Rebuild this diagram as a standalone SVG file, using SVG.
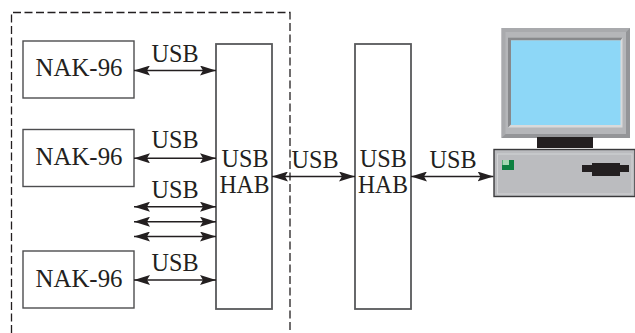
<svg xmlns="http://www.w3.org/2000/svg" width="635" height="333" viewBox="0 0 635 333">
<style>
text{font-family:"Liberation Serif","Times New Roman",serif;font-size:26px;fill:#231f20;text-anchor:middle}
.box{fill:#fff;stroke:#4d4d4f;stroke-width:1.4}
.hub{fill:#fff;stroke:#58595b;stroke-width:1.8}
.c{stroke:#231f20;stroke-width:1.4;fill:none;marker-start:url(#a);marker-end:url(#a)}
</style>
<defs>
<marker id="a" viewBox="0 0 16 10" refX="16" refY="5" markerWidth="16" markerHeight="10" markerUnits="userSpaceOnUse" orient="auto-start-reverse"><path d="M0 0L16 5L0 10L3 5Z" fill="#231f20"/></marker>
</defs>
<rect width="635" height="333" fill="#fff"/>
<path id="boundary" d="M11.500 333V12.500H290V333" fill="none" stroke="#231f20" stroke-width="1.300" stroke-dasharray="8 3.500"/>
<g id="nak1"><rect class="box" x="23" y="41" width="111" height="57"/><text x="79" y="76" textLength="87" lengthAdjust="spacingAndGlyphs">NAK-96</text></g>
<g id="nak2"><rect class="box" x="23" y="129.500" width="111" height="57"/><text x="79" y="165" textLength="87" lengthAdjust="spacingAndGlyphs">NAK-96</text></g>
<g id="nak3"><rect class="box" x="23" y="251" width="111" height="57"/><text x="79" y="286.700" textLength="87" lengthAdjust="spacingAndGlyphs">NAK-96</text></g>
<g id="hub1"><rect class="hub" x="216" y="44" width="56" height="265"/><text><tspan x="245" y="166.700" textLength="47" lengthAdjust="spacingAndGlyphs">USB</tspan><tspan x="244.500" y="192.700" textLength="50" lengthAdjust="spacingAndGlyphs">HAB</tspan></text></g>
<g id="hub2"><rect class="hub" x="355" y="44" width="56" height="265"/><text><tspan x="383.300" y="166.700" textLength="47" lengthAdjust="spacingAndGlyphs">USB</tspan><tspan x="383" y="192.700" textLength="50" lengthAdjust="spacingAndGlyphs">HAB</tspan></text></g>
<g id="connectors">
<path class="c" d="M134 70.500H216"/>
<path class="c" d="M134 158.300H216"/>
<path class="c" d="M134 206.700H216"/>
<path class="c" d="M134 221.700H216"/>
<path class="c" d="M134 236.500H216"/>
<path class="c" d="M134 280H216"/>
<path class="c" d="M272 176.500H355"/>
<path class="c" d="M411 176.500H493.500"/>
</g>
<g id="labels">
<text x="175" y="62" textLength="47" lengthAdjust="spacingAndGlyphs">USB</text>
<text x="175" y="148.300" textLength="47" lengthAdjust="spacingAndGlyphs">USB</text>
<text x="175" y="198.300" textLength="47" lengthAdjust="spacingAndGlyphs">USB</text>
<text x="175" y="270.700" textLength="47" lengthAdjust="spacingAndGlyphs">USB</text>
<text x="315" y="167.700" textLength="47" lengthAdjust="spacingAndGlyphs">USB</text>
<text x="453" y="167.700" textLength="47" lengthAdjust="spacingAndGlyphs">USB</text>
</g>
<g id="computer">
<rect x="501.500" y="28" width="128.500" height="110" fill="#b5b6b9"/>
<path d="M501.500 28H630L626 32H505.500V134L501.500 138Z" fill="#a9aaad"/>
<path d="M501.500 138L505.500 134H626V32L630 28V138Z" fill="#949598"/>
<rect x="508" y="37.500" width="114.500" height="90" fill="#d9dadb"/>
<path d="M508 37.500H622.500L620.500 40.500H511V124.500L508 127.500Z" fill="#88898c"/>
<rect x="511" y="40.500" width="109.500" height="84.500" fill="#8dd7f7"/>
<rect x="537" y="137" width="56" height="11" fill="#231f20"/>
<rect x="494" y="149.500" width="141" height="47" fill="#bbbcbf" stroke="#3a3a3c" stroke-width="1.400"/>
<rect x="497.500" y="154" width="134.500" height="40" fill="none" stroke="#d2d3d5" stroke-width="1"/>
<rect x="502" y="160" width="12" height="10" fill="#0d8040"/>
<rect x="502.500" y="160" width="6.500" height="5" fill="#a3d9b1"/>
<path d="M582 165H592V163H620V165H629V172H620V176H592V172H582Z" fill="#231f20"/>
</g>
</svg>
